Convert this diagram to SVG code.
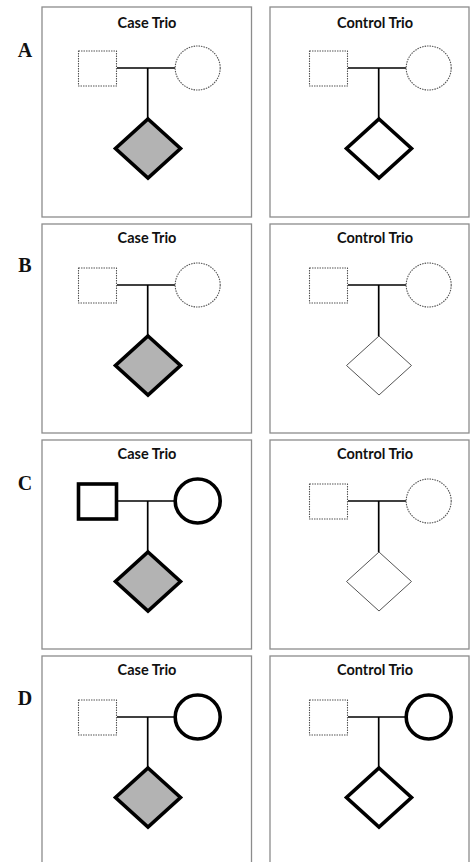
<svg xmlns="http://www.w3.org/2000/svg" width="471" height="862" viewBox="0 0 471 862">
<style>
.panel{fill:#fff;stroke:#8c8c8c;stroke-width:1.3}
.title{font-family:Lato,"Open Sans",sans-serif;font-weight:bold;font-size:14.5px;fill:#111;text-anchor:middle}
.lbl{font-family:"Liberation Serif",serif;font-weight:bold;font-size:20px;fill:#111;text-anchor:middle}
.dot{fill:#fff;stroke:#555;stroke-width:1.1;stroke-dasharray:1.5 1}
.thin{fill:#fff;stroke:#555;stroke-width:1}
.thick{fill:#fff;stroke:#000;stroke-width:3.6;stroke-linejoin:miter}
.aff{fill:#b3b3b3;stroke:#000;stroke-width:3.6;stroke-linejoin:miter}
.conn{stroke:#000;stroke-width:1.7;fill:none}
</style>
<rect width="471" height="862" fill="#fff"/>

<g id="labels">
<text class="lbl" x="25" y="57">A</text>
<text class="lbl" x="25" y="272">B</text>
<text class="lbl" x="25" y="490">C</text>
<text class="lbl" x="25" y="705">D</text>
</g>

<g id="panels">
<rect class="panel" x="42" y="7" width="209.5" height="210"/>
<rect class="panel" x="270" y="7" width="199" height="210"/>
<rect class="panel" x="42" y="224" width="209.5" height="209"/>
<rect class="panel" x="270" y="224" width="199" height="209"/>
<rect class="panel" x="42" y="440" width="209.5" height="209"/>
<rect class="panel" x="270" y="440" width="199" height="209"/>
<rect class="panel" x="42" y="656" width="209.5" height="215"/>
<rect class="panel" x="270" y="656" width="199" height="215"/>
<text class="title" x="147" y="28">Case Trio</text>
<text class="title" x="375" y="28">Control Trio</text>
<text class="title" x="147" y="243">Case Trio</text>
<text class="title" x="375" y="243">Control Trio</text>
<text class="title" x="147" y="459">Case Trio</text>
<text class="title" x="375" y="459">Control Trio</text>
<text class="title" x="147" y="675">Case Trio</text>
<text class="title" x="375" y="675">Control Trio</text>
</g>

<g id="connectors">
<line class="conn" x1="117" y1="68" x2="175" y2="68"/><line class="conn" x1="147.7" y1="68" x2="147.7" y2="119"/>
<line class="conn" x1="348" y1="68" x2="406" y2="68"/><line class="conn" x1="378.7" y1="68" x2="378.7" y2="119"/>
<line class="conn" x1="117" y1="285" x2="175" y2="285"/><line class="conn" x1="147.7" y1="285" x2="147.7" y2="336"/>
<line class="conn" x1="348" y1="285" x2="406" y2="285"/><line class="conn" x1="378.7" y1="285" x2="378.7" y2="336"/>
<line class="conn" x1="117" y1="501" x2="175" y2="501"/><line class="conn" x1="147.7" y1="501" x2="147.7" y2="552"/>
<line class="conn" x1="348" y1="501" x2="406" y2="501"/><line class="conn" x1="378.7" y1="501" x2="378.7" y2="552"/>
<line class="conn" x1="117" y1="717" x2="175" y2="717"/><line class="conn" x1="147.7" y1="717" x2="147.7" y2="768"/>
<line class="conn" x1="348" y1="717" x2="406" y2="717"/><line class="conn" x1="378.7" y1="717" x2="378.7" y2="768"/>
</g>

<!-- Row A -->
<g id="A-case-father"><rect class="dot" x="78.5" y="51" width="38" height="35"/></g>
<g id="A-case-mother"><ellipse class="dot" cx="197.7" cy="68" rx="22.5" ry="22"/></g>
<g id="A-case-child"><polygon class="aff" points="148,119 180.5,148.5 148,178 115.5,148.5"/></g>
<g id="A-control-father"><rect class="dot" x="309.5" y="51" width="38" height="35"/></g>
<g id="A-control-mother"><ellipse class="dot" cx="428.7" cy="68" rx="22.5" ry="22"/></g>
<g id="A-control-child"><polygon class="thick" points="379,119 411.5,148.5 379,178 346.5,148.5"/></g>

<!-- Row B -->
<g id="B-case-father"><rect class="dot" x="78.5" y="268" width="38" height="35"/></g>
<g id="B-case-mother"><ellipse class="dot" cx="197.7" cy="285" rx="22.5" ry="22"/></g>
<g id="B-case-child"><polygon class="aff" points="148,336 180.5,365.5 148,395 115.5,365.5"/></g>
<g id="B-control-father"><rect class="dot" x="309.5" y="268" width="38" height="35"/></g>
<g id="B-control-mother"><ellipse class="dot" cx="428.7" cy="285" rx="22.5" ry="22"/></g>
<g id="B-control-child"><polygon class="thin" points="379,336 411.5,365.5 379,395 346.5,365.5"/></g>

<!-- Row C -->
<g id="C-case-father"><rect class="thick" x="78.5" y="484" width="38" height="35"/></g>
<g id="C-case-mother"><ellipse class="thick" cx="197.7" cy="501" rx="22.5" ry="22"/></g>
<g id="C-case-child"><polygon class="aff" points="148,552 180.5,581.5 148,611 115.5,581.5"/></g>
<g id="C-control-father"><rect class="dot" x="309.5" y="484" width="38" height="35"/></g>
<g id="C-control-mother"><ellipse class="dot" cx="428.7" cy="501" rx="22.5" ry="22"/></g>
<g id="C-control-child"><polygon class="thin" points="379,552 411.5,581.5 379,611 346.5,581.5"/></g>

<!-- Row D -->
<g id="D-case-father"><rect class="dot" x="78.5" y="700" width="38" height="35"/></g>
<g id="D-case-mother"><ellipse class="thick" cx="197.7" cy="717" rx="22.5" ry="22"/></g>
<g id="D-case-child"><polygon class="aff" points="148,768 180.5,797.5 148,827 115.5,797.5"/></g>
<g id="D-control-father"><rect class="dot" x="309.5" y="700" width="38" height="35"/></g>
<g id="D-control-mother"><ellipse class="thick" cx="428.7" cy="717" rx="22.5" ry="22"/></g>
<g id="D-control-child"><polygon class="thick" points="379,768 411.5,797.5 379,827 346.5,797.5"/></g>
</svg>
